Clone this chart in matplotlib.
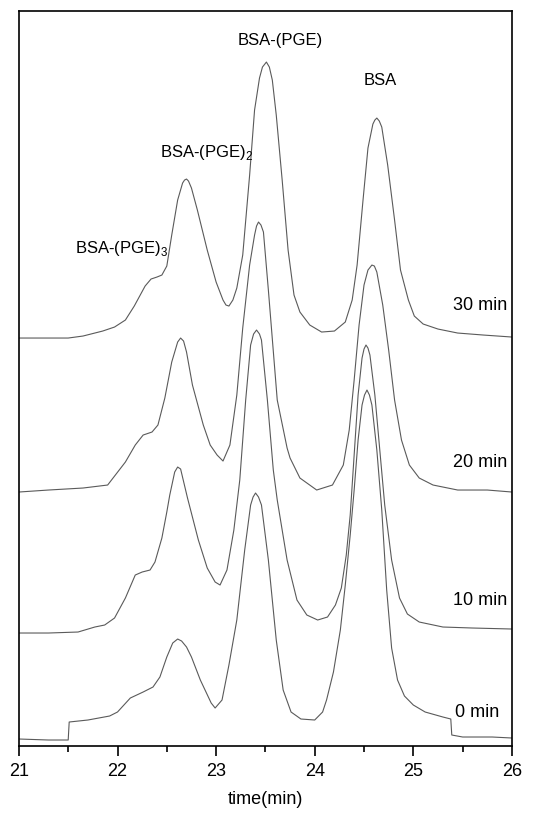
import numpy as np
import matplotlib.pyplot as plt
from matplotlib.ticker import MultipleLocator

plt.rcParams.update({"font.family": ["Liberation Sans", "DejaVu Sans"], "font.size": 13})

# retention time (min) and detector signal (a.u., traces already offset)
t_30 = [21.00, 21.30, 21.50, 21.65, 21.85, 21.97, 22.08, 22.17, 22.28, 22.34,
        22.40, 22.45, 22.50, 22.55, 22.61, 22.66, 22.68, 22.70, 22.72, 22.75, 22.81, 22.91,
        23.00, 23.07, 23.10, 23.13, 23.17, 23.21, 23.27, 23.34, 23.39, 23.44, 23.47, 23.51, 23.54, 23.57,
        23.61, 23.67, 23.73, 23.79, 23.85, 23.95, 24.07, 24.20, 24.31, 24.38,
        24.43, 24.49, 24.54, 24.59, 24.61, 24.63, 24.655, 24.68, 24.74, 24.81, 24.87, 24.95,
        25.01, 25.10, 25.25, 25.45, 25.71, 26.00]
s_30 = [408, 408, 408, 410, 415, 419, 426, 440, 460, 467,
        469, 471, 480, 511, 546, 563, 566, 567, 565, 558, 536, 496,
        464, 446, 441, 440, 446, 458, 491, 571, 636, 668, 679, 684, 679, 666,
        631, 566, 496, 451, 434, 421, 414, 415, 424, 446,
        481, 546, 598, 622, 626, 628, 625, 619, 581, 526, 476, 446,
        430, 422, 417, 413, 411, 409]

t_20 = [21.00, 21.30, 21.65, 21.90, 22.08, 22.18, 22.26, 22.35, 22.41, 22.48,
        22.55, 22.61, 22.64, 22.67, 22.70, 22.76, 22.87, 22.94, 23.01, 23.07, 23.14,
        23.21, 23.27, 23.34, 23.39, 23.41, 23.43, 23.455, 23.48, 23.53, 23.62, 23.72, 23.75,
        23.85, 24.02, 24.18, 24.29, 24.35, 24.40, 24.45, 24.50, 24.54, 24.58, 24.605,
        24.63, 24.69, 24.75, 24.81, 24.88, 24.96, 25.06, 25.20, 25.45, 25.75, 26.00]
s_20 = [254, 256, 258, 261, 284, 301, 311, 314, 321, 348,
        384, 404, 408, 405, 394, 361, 321, 301, 291, 285, 301,
        351, 418, 481, 511, 520, 524, 521, 514, 456, 346, 298, 288,
        268, 256, 261, 281, 316, 366, 421, 461, 476, 481, 480,
        474, 441, 396, 346, 306, 281, 268, 261, 256, 256, 254]

t_10 = [21.00, 21.30, 21.60, 21.77, 21.87, 21.97, 22.08, 22.18, 22.25, 22.33,
        22.38, 22.45, 22.50, 22.53, 22.58, 22.61, 22.64, 22.71, 22.82, 22.91,
        22.99, 23.04, 23.11, 23.18, 23.24, 23.30, 23.35, 23.38, 23.41, 23.44, 23.46, 23.52,
        23.58, 23.62, 23.72, 23.82, 23.92, 24.03, 24.13, 24.21, 24.27, 24.32,
        24.36, 24.40, 24.44, 24.48, 24.50, 24.52, 24.54, 24.56, 24.61, 24.66, 24.71, 24.78,
        24.86, 24.94, 25.06, 25.30, 25.60, 26.00]
s_10 = [113, 113, 114, 119, 121, 128, 148, 171, 174, 176,
        184, 208, 234, 251, 274, 279, 277, 248, 206, 178,
        164, 161, 176, 216, 266, 346, 401, 412, 416, 412, 406, 346,
        276, 246, 186, 146, 131, 126, 129, 141, 158, 191,
        231, 291, 351, 388, 397, 401, 398, 391, 351, 296, 241, 186,
        148, 132, 124, 119, 118, 117]

t_0 = [21.00, 21.30, 21.50, 21.51, 21.70, 21.92, 22.00, 22.13, 22.26, 22.36,
       22.43, 22.50, 22.56, 22.61, 22.65, 22.70, 22.75, 22.84, 22.95, 22.99, 23.06,
       23.13, 23.21, 23.29, 23.35, 23.375, 23.40, 23.43, 23.46, 23.53, 23.61, 23.68, 23.76,
       23.86, 24.00, 24.08, 24.12, 24.19, 24.26, 24.31, 24.36, 24.40, 24.44,
       24.48, 24.505, 24.53, 24.555, 24.58, 24.63, 24.68, 24.73, 24.78, 24.84, 24.91, 25.00,
       25.12, 25.30, 25.38, 25.39, 25.50, 25.80, 26.00]
s_0 = [7, 6, 6, 24, 26, 30, 34, 48, 54, 59,
       69, 89, 103, 107, 105, 99, 89, 66, 43, 38, 46,
       81, 126, 196, 241, 249, 253, 249, 241, 186, 106, 56, 34,
       27, 26, 34, 46, 74, 116, 161, 211, 256, 306,
       341, 351, 356, 351, 341, 296, 236, 156, 98, 66, 50, 41,
       34, 29, 27, 11, 9, 9, 8]

traces = [(t_30, s_30), (t_20, s_20), (t_10, s_10), (t_0, s_0)]
run_labels = ["30 min", "20 min", "10 min", "0 min"]
run_label_pos = [(25.40, 441), (25.40, 284), (25.40, 146), (25.42, 34)]

peak_labels = [r"BSA-(PGE)", "BSA", r"BSA-(PGE)$_\mathregular{2}$", r"BSA-(PGE)$_\mathregular{3}$"]
peak_label_pos = [(23.65, 706, "center"), (24.66, 666, "center"),
                  (22.43, 594, "left"), (21.57, 498, "left")]

fig = plt.figure(figsize=(5.4, 8.13), dpi=100)
ax = fig.add_axes([0.035, 0.0824, 0.913, 0.904])

for t, s in traces:
    ax.plot(t, s, color="#5a5a5a", lw=0.8)

for txt, (x, y) in zip(run_labels, run_label_pos):
    ax.text(x, y, txt, ha="left", va="center", fontsize=13)

for txt, (x, y, ha) in zip(peak_labels, peak_label_pos):
    ax.text(x, y, txt, ha=ha, va="center", fontsize=12)

ax.set_xlim(21, 26)
ax.set_ylim(0, 735)
ax.set_yticks([])
ax.xaxis.set_major_locator(MultipleLocator(1))
ax.xaxis.set_minor_locator(MultipleLocator(0.5))
ax.tick_params(axis="x", which="major", direction="out", length=7, width=1.2, pad=5)
ax.tick_params(axis="x", which="minor", direction="out", length=4, width=1.2)
for sp in ax.spines.values():
    sp.set_linewidth(1.2)
ax.set_xlabel("time(min)", labelpad=8)

plt.savefig("out.png", dpi=100)
